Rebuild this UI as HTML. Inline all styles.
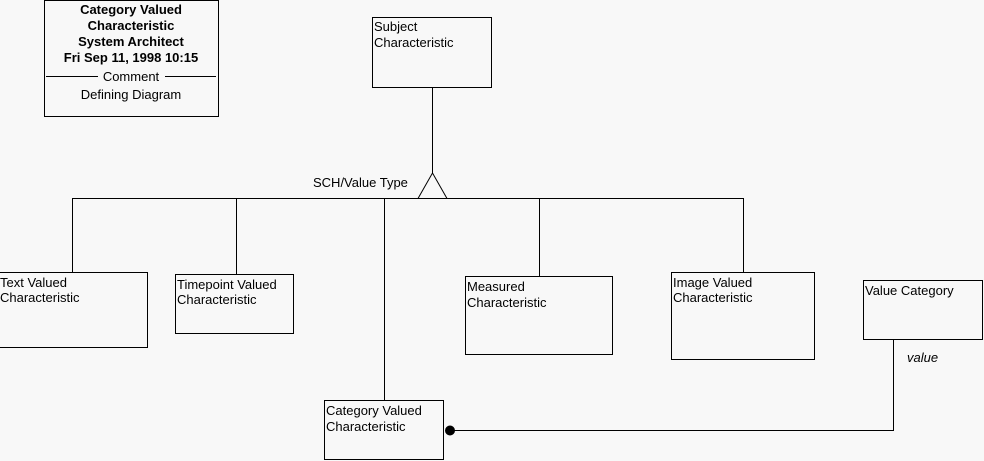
<!DOCTYPE html>
<html><head><meta charset="utf-8"><style>
html,body{margin:0;padding:0;background:#f8f8f8;}
svg{display:block;font-family:"Liberation Sans",sans-serif;font-size:13px;}
</style></head><body>
<svg width="984" height="461" viewBox="0 0 984 461" xmlns="http://www.w3.org/2000/svg">
<rect width="984" height="461" fill="#f8f8f8"/>
<g fill="none" stroke="#000" stroke-width="1">
<rect x="44.5" y="0.5" width="174" height="116"/>
<line x1="46" y1="76.5" x2="98" y2="76.5"/>
<line x1="165" y1="76.5" x2="216" y2="76.5"/>
<rect x="372.5" y="17.5" width="119" height="70"/>
<line x1="432.5" y1="88" x2="432.5" y2="173"/>
<polyline points="418,198.5 432.5,173 447,198.5"/>
<line x1="72" y1="198.5" x2="743" y2="198.5"/>
<line x1="72.5" y1="198" x2="72.5" y2="272"/>
<line x1="236.5" y1="198" x2="236.5" y2="274"/>
<line x1="384.5" y1="198" x2="384.5" y2="400"/>
<line x1="539.5" y1="198" x2="539.5" y2="276"/>
<line x1="743.5" y1="198" x2="743.5" y2="272"/>
<rect x="-1.5" y="272.5" width="149" height="75"/>
<rect x="175.5" y="274.5" width="118" height="59"/>
<rect x="465.5" y="276.5" width="147" height="78"/>
<rect x="671.5" y="272.5" width="143" height="87"/>
<rect x="863.5" y="280.5" width="119" height="59"/>
<rect x="324.5" y="400.5" width="119" height="59"/>
<polyline points="893.5,340 893.5,430.5 450,430.5"/>
</g>
<circle cx="450" cy="430.5" r="5" fill="#000"/>
<g fill="#000" font-weight="bold" text-anchor="middle">
<text x="131" y="14">Category Valued</text>
<text x="131" y="30">Characteristic</text>
<text x="131" y="46">System Architect</text>
<text x="131" y="62">Fri Sep 11, 1998  10:15</text>
</g>
<g fill="#000">
<text x="131" y="81" text-anchor="middle">Comment</text>
<text x="131" y="99" text-anchor="middle">Defining Diagram</text>
<text x="374" y="31">Subject</text><text x="374" y="47">Characteristic</text>
<text x="313" y="187">SCH/Value Type</text>
<text x="0" y="287">Text Valued</text><text x="0" y="302">Characteristic</text>
<text x="177" y="289">Timepoint Valued</text><text x="177" y="304">Characteristic</text>
<text x="467" y="291">Measured</text><text x="467" y="307">Characteristic</text>
<text x="673" y="287">Image Valued</text><text x="673" y="302">Characteristic</text>
<text x="865" y="295">Value Category</text>
<text x="326" y="415">Category Valued</text><text x="326" y="431">Characteristic</text>
<text x="907" y="362" font-style="italic">value</text>
</g>
</svg>
</body></html>
